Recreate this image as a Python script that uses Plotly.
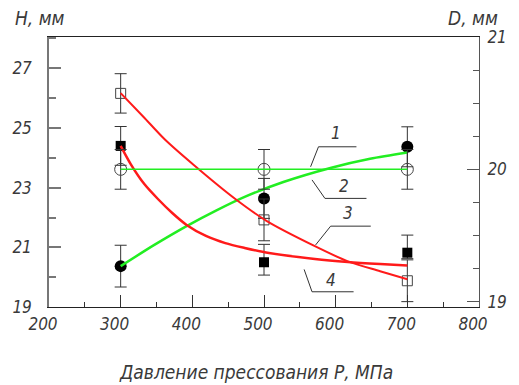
import plotly.graph_objects as go

# Measured points (pressing pressure P, MPa)
pressure = [300, 500, 700]

# D, mm (right axis) - series 1
d_open_circle = [20.0, 20.0, 20.0]
d_open_circle_err = [0.15, 0.15, 0.15]

# H, mm (left axis) - series 2, 3, 4
h_filled_circle = [20.37, 22.64, 24.37]
h_filled_circle_err = [0.70, 0.67, 0.67]

h_open_square = [26.16, 21.92, 19.88]
h_open_square_err = [0.66, 0.70, 0.70]

h_filled_square = [24.40, 20.50, 20.82]
h_filled_square_err_plus = [0.65, 0.60, 0.59]
h_filled_square_err_minus = [0.65, 0.43, 0.20]

# Approximating curves
curve1_p = [300, 700]
curve1_d = [20.0, 20.0]

curve2_p = [300, 347, 392, 433, 473, 527, 594, 648, 700]
curve2_h = [20.37, 21.08, 21.71, 22.23, 22.69, 23.19, 23.67, 23.97, 24.18]

curve3_p = [300, 332, 361, 402, 460, 504, 571, 617, 662, 700]
curve3_h = [26.17, 25.37, 24.63, 23.76, 22.62, 21.88, 21.04, 20.53, 20.20, 19.93]

curve4_p = [300, 314, 333, 352, 372, 392, 419, 446, 473, 507, 571, 617, 662, 700]
curve4_h = [24.40, 23.79, 23.12, 22.62, 22.15, 21.75, 21.38, 21.14, 20.98,
            20.81, 20.61, 20.51, 20.44, 20.39]

# Curve labels with leader lines: (label, anchor on curve, knee, shelf end, text position)
curve_labels = [
    ("1", (565, 23.70), (576, 24.37), (629, 24.37), (601, 24.83)),
    ("2", (567, 23.26), (585, 22.64), (643, 22.64), (612, 23.06)),
    ("3", (572, 21.08), (593, 21.71), (649, 21.71), (617, 22.14)),
    ("4", (556, 20.26), (567, 19.51), (625, 19.51), (593, 19.90)),
]

FONT = "DejaVu Sans Condensed, Liberation Sans Narrow, DejaVu Sans, sans-serif"
TEXT = "#3a3a3a"
RED = "#ff1a1a"
GREEN = "#22ee22"
ERR = dict(type="data", color="#333333", thickness=1, width=6)

fig = go.Figure()

fig.add_trace(go.Scatter(
    x=pressure, y=d_open_circle, yaxis="y2", mode="markers",
    marker=dict(symbol="circle-open", size=12, color="#444444", line=dict(width=1)),
    error_y=dict(array=d_open_circle_err, **ERR), showlegend=False))
fig.add_trace(go.Scatter(
    x=pressure, y=h_filled_circle, mode="markers",
    marker=dict(symbol="circle", size=12, color="#000000"),
    error_y=dict(array=h_filled_circle_err, **ERR), showlegend=False))
fig.add_trace(go.Scatter(
    x=pressure, y=h_open_square, mode="markers",
    marker=dict(symbol="square-open", size=10, color="#444444", line=dict(width=1)),
    error_y=dict(array=h_open_square_err, **ERR), showlegend=False))
fig.add_trace(go.Scatter(
    x=pressure, y=h_filled_square, mode="markers",
    marker=dict(symbol="square", size=10, color="#000000"),
    error_y=dict(array=h_filled_square_err_plus,
                 arrayminus=h_filled_square_err_minus, symmetric=False, **ERR),
    showlegend=False))

fig.add_trace(go.Scatter(x=curve1_p, y=curve1_d, yaxis="y2", mode="lines",
                         line=dict(color=GREEN, width=1.5), showlegend=False))
fig.add_trace(go.Scatter(x=curve2_p, y=curve2_h, mode="lines",
                         line=dict(color=GREEN, width=2.5, shape="spline", smoothing=0.8),
                         showlegend=False))
fig.add_trace(go.Scatter(x=curve3_p, y=curve3_h, mode="lines",
                         line=dict(color=RED, width=2, shape="spline", smoothing=0.8),
                         showlegend=False))
fig.add_trace(go.Scatter(x=curve4_p, y=curve4_h, mode="lines",
                         line=dict(color=RED, width=2.5, shape="spline", smoothing=0.8),
                         showlegend=False))

shapes = []
annotations = []
for text, a, k, e, t in curve_labels:
    shapes.append(dict(type="path", xref="x", yref="y",
                       path=f"M {a[0]},{a[1]} L {k[0]},{k[1]} L {e[0]},{e[1]}",
                       line=dict(color="#333333", width=1)))
    annotations.append(dict(x=t[0], y=t[1], xref="x", yref="y", text=text,
                            showarrow=False, font=dict(size=17)))

annotations += [
    dict(x=-0.083, y=1.07, xref="paper", yref="paper", text="H, мм",
         xanchor="left", yanchor="middle", showarrow=False, font=dict(size=19)),
    dict(x=1.049, y=1.07, xref="paper", yref="paper", text="D, мм",
         xanchor="right", yanchor="middle", showarrow=False, font=dict(size=19)),
    dict(x=0.482, y=-0.241, xref="paper", yref="paper",
         text="Давление прессования Р, МПа",
         xanchor="center", yanchor="middle", showarrow=False, font=dict(size=19)),
]

fig.update_layout(
    width=519, height=385, autosize=False,
    margin=dict(l=47, r=26, t=37, b=78),
    paper_bgcolor="white", plot_bgcolor="white",
    font=dict(family=FONT, size=17, color=TEXT, style="italic"),
    shapes=shapes, annotations=annotations,
    xaxis=dict(range=[200, 800], tickvals=[200, 300, 400, 500, 600, 700, 800],
               ticks="inside", ticklen=12, tickcolor="#333333", tickwidth=1,
               minor=dict(ticks="inside", ticklen=5, dtick=50, tick0=200,
                          tickcolor="#333333"),
               showline=True, linecolor="#222222", linewidth=1, mirror=True,
               showgrid=False, zeroline=False, ticklabelstandoff=2,
               ticklabelshift=-6),
    yaxis=dict(range=[19, 28.05], tickvals=[19, 21, 23, 25, 27],
               ticks="inside", ticklen=12, tickcolor="#777777", tickwidth=1.5,
               minor=dict(ticks="inside", ticklen=7, dtick=1, tick0=19,
                          tickcolor="#777777"),
               showline=True, linecolor="#777777", linewidth=1.5,
               showgrid=False, zeroline=False, ticklabelstandoff=12),
    yaxis2=dict(range=[18.96, 21.0], overlaying="y", side="right",
                tickvals=[19, 20, 21], ticks="inside", ticklen=12,
                tickcolor="#555555", tickwidth=1,
                minor=dict(ticks="inside", ticklen=6, dtick=0.25, tick0=19,
                           tickcolor="#555555"),
                showline=True, linecolor="#555555", linewidth=1,
                showgrid=False, zeroline=False, ticklabelstandoff=4),
)

fig.write_html("out.html")
